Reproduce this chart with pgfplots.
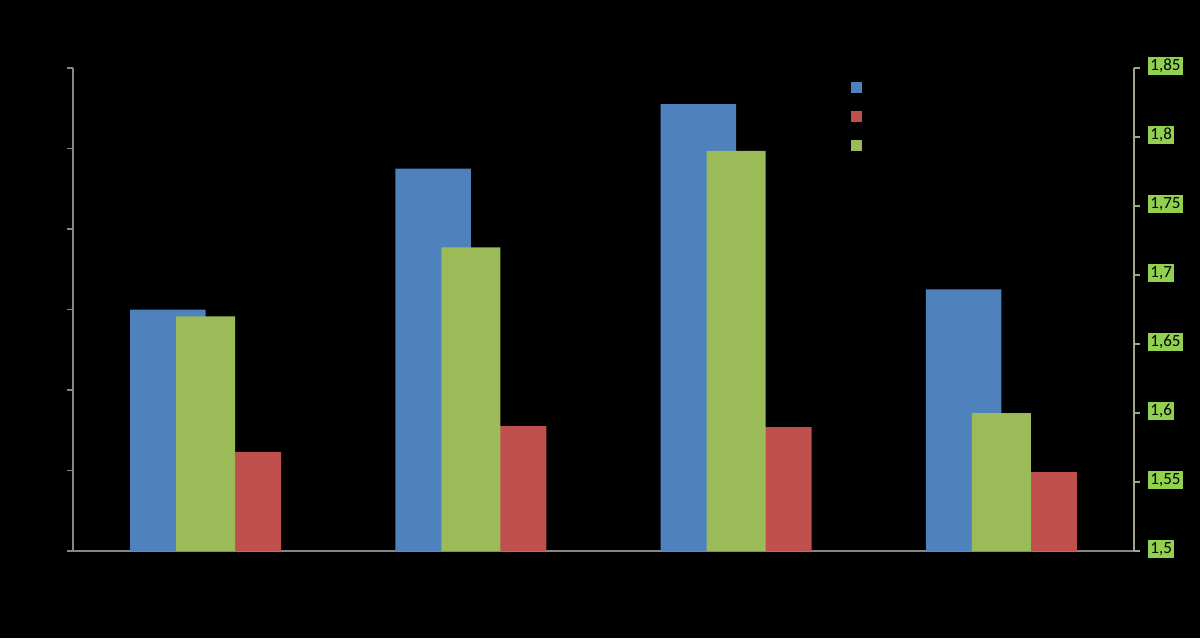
\documentclass[border=0pt]{standalone}
\usepackage{pgfplots}
\pgfplotsset{compat=1.18}
\usepackage{fontspec}
\setmainfont{Carlito}
\definecolor{cblue}{HTML}{4F81BD}
\definecolor{cred}{HTML}{C0504D}
\definecolor{cgreen}{HTML}{9BBB59}
\definecolor{lblgreen}{HTML}{92D050}
\definecolor{axgray}{HTML}{868686}
\definecolor{axgreen}{HTML}{9AA890}
\begin{document}
\begin{tikzpicture}
\fill[black] (0,0) rectangle (600pt,319pt);
\begin{axis}[
  at={(36.5pt,43.5pt)}, anchor=south west,
  scale only axis, width=530.5pt, height=241.5pt,
  ybar=0pt, bar width=37.75pt,
  xmin=-0.5, xmax=3.5, xtick=\empty,
  ymin=0, ymax=6, ytick={0,1,2,3,4,5,6}, yticklabels={},
  axis x line*=bottom, axis y line*=left,
  axis line style={axgray, line width=0.8pt, -},
  tick style={axgray, line width=0.8pt},
  major tick length=3pt, tick align=outside,
  legend style={draw=none, fill=none, at={(0.7274,0.998)}, anchor=north west,
     row sep=0pt, font=\fontsize{8.5}{10}\selectfont,
     nodes={inner sep=0pt, minimum height=14.5pt}},
  legend image code/.code={\fill[#1] (0pt,-2.75pt) rectangle (5.5pt,2.75pt);},
  legend cell align=left,
]
\addplot[fill=cblue, draw=none] coordinates {(0,3.0) (1,4.75) (2,5.55) (3,3.25)};
\addlegendentry{\mbox{}}
\addplot[fill=cred, draw=none] coordinates {(0,1.23) (1,1.55) (2,1.54) (3,0.98)};
\addlegendentry{\mbox{}}
\addlegendimage{fill=cgreen, draw=none}
\addlegendentry{\mbox{}}
\end{axis}
\begin{axis}[
  at={(36.5pt,43.5pt)}, anchor=south west,
  scale only axis, width=530.5pt, height=241.5pt,
  ybar=0pt, bar width=29.5pt,
  xmin=-0.5, xmax=3.5, xtick=\empty,
  ymin=1.5, ymax=1.85, ytick={1.5,1.55,1.6,1.65,1.7,1.75,1.8,1.85},
  axis x line=none, axis y line*=right,
  axis line style={axgreen, line width=0.8pt, -},
  tick style={axgreen, line width=0.8pt},
  major tick length=3pt, tick align=outside,
  yticklabel style={/pgf/number format/.cd, fixed, precision=2, use comma, assume math mode=true,
     /tikz/.cd, font=\fontsize{8.5}{10}\selectfont, fill=lblgreen, text=black, inner sep=1pt, xshift=4pt, yshift=1pt},
]
\addplot[fill=cgreen, draw=none] coordinates {(0,1.67) (1,1.72) (2,1.79) (3,1.60)};
\end{axis}
\pgfresetboundingbox
\useasboundingbox (0,0) rectangle (600pt,319pt);
\end{tikzpicture}
\end{document}
